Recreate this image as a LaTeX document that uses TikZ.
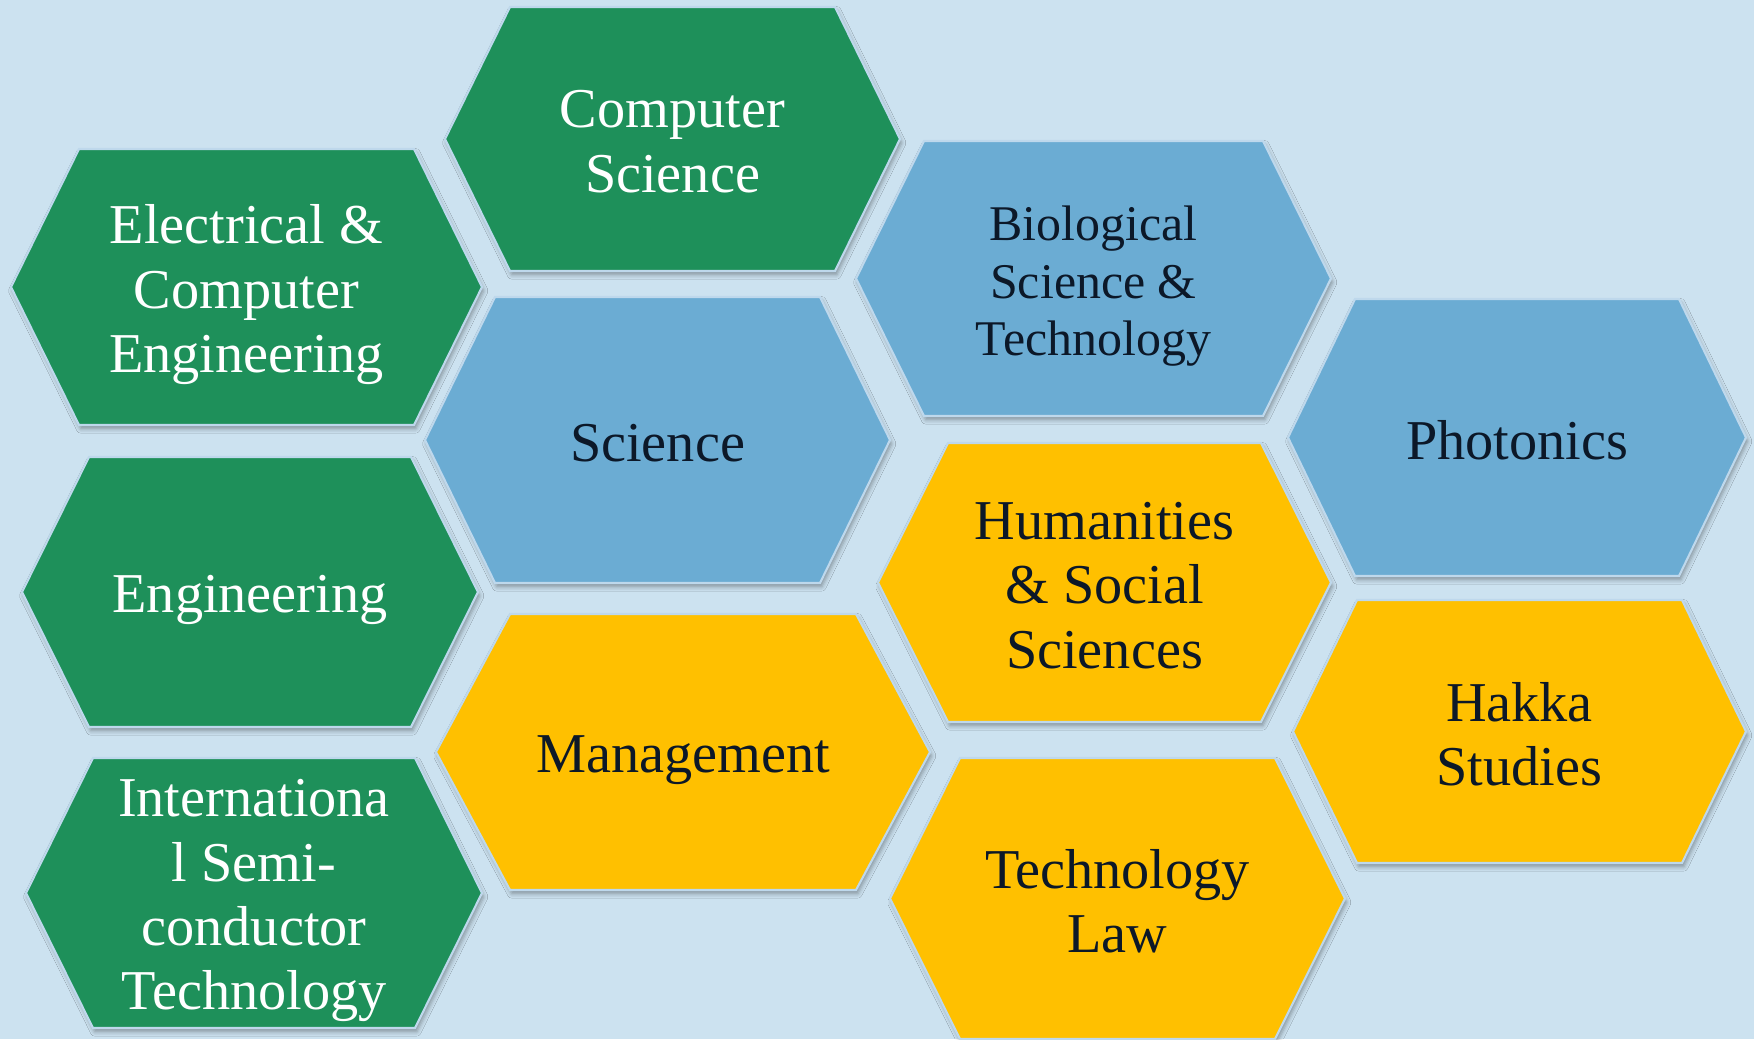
\documentclass[tikz,border=0pt]{standalone}
\usepackage{fontspec}
\setmainfont{Liberation Serif}
\usepackage{tikz}
\usetikzlibrary{shadows.blur}

\definecolor{pagebg}{RGB}{204,226,240}
\definecolor{cellgreen}{RGB}{30,144,90}
\definecolor{cellblue}{RGB}{107,172,211}
\definecolor{cellyellow}{RGB}{255,192,0}
\definecolor{celledge}{RGB}{190,216,236}
\definecolor{darktext}{RGB}{12,24,40}

\tikzset{
  cell/.style={draw=celledge, line width=0.6pt, line join=miter,
    blur shadow={shadow xshift=0.5pt, shadow yshift=-1.1pt,
      shadow blur radius=1.2pt, shadow opacity=35}},
  greencell/.style={cell, fill=cellgreen},
  bluecell/.style={cell, fill=cellblue},
  yellowcell/.style={cell, fill=cellyellow},
  celltext/.style={align=center, inner sep=0pt, yshift=-0.8pt,
    font=\fontsize{16}{18.3}\selectfont},
  lighttext/.style={celltext, text=white},
  darktext/.style={celltext, text=darktext},
  lower/.style={yshift=-1.4pt}
}

% name, cx, cy, half width, inset, half height, cell style, text style, text
\newcommand{\hexcell}[9]{
  \path[#7] ({#2-#4},#3) -- ({#2-#4+#5},{#3-#6}) -- ({#2+#4-#5},{#3-#6})
    -- ({#2+#4},#3) -- ({#2+#4-#5},{#3+#6}) -- ({#2-#4+#5},{#3+#6}) -- cycle;
  \node[#8] (#1) at (#2,#3) {#9};
}

\begin{document}
\begin{tikzpicture}[x=0.01cm, y=-0.01cm]
\useasboundingbox (0,0) rectangle (1754,1039);
\fill[pagebg] (0,0) rectangle (1754,1039);

\hexcell{ece}{246.5}{287}{235.5}{68}{138}{greencell}{lighttext, lower}{Electrical \&\\Computer\\Engineering}
\hexcell{cs}{672.5}{139}{227.5}{65}{132}{greencell}{lighttext}{Computer\\Science}
\hexcell{sci}{657.5}{440}{232.5}{70}{143}{bluecell}{darktext}{Science}
\hexcell{bio}{1093.5}{278.5}{237.5}{68}{137.5}{bluecell}{darktext, lower, font=\fontsize{14.2}{16.4}\selectfont}{Biological\\Science \&\\Technology}
\hexcell{pho}{1517}{437.5}{229}{67}{138.5}{bluecell}{darktext}{Photonics}
\hexcell{eng}{250}{592}{228}{67}{135}{greencell}{lighttext, lower}{Engineering}
\hexcell{ist}{254}{893}{228}{67}{135}{greencell}{lighttext, lower}{Internationa\\l Semi-\\conductor\\Technology}
\hexcell{mgt}{683}{752}{247}{74}{138}{yellowcell}{darktext, lower}{Management}
\hexcell{hum}{1104.5}{582.5}{226.5}{70}{139.5}{yellowcell}{darktext}{Humanities\\\& Social\\Sciences}
\hexcell{law}{1117.5}{898.5}{227.5}{70}{140.5}{yellowcell}{darktext}{Technology\\Law}
\hexcell{hak}{1519.5}{731.5}{226.5}{64}{131.5}{yellowcell}{darktext}{Hakka\\Studies}
\end{tikzpicture}
\end{document}
